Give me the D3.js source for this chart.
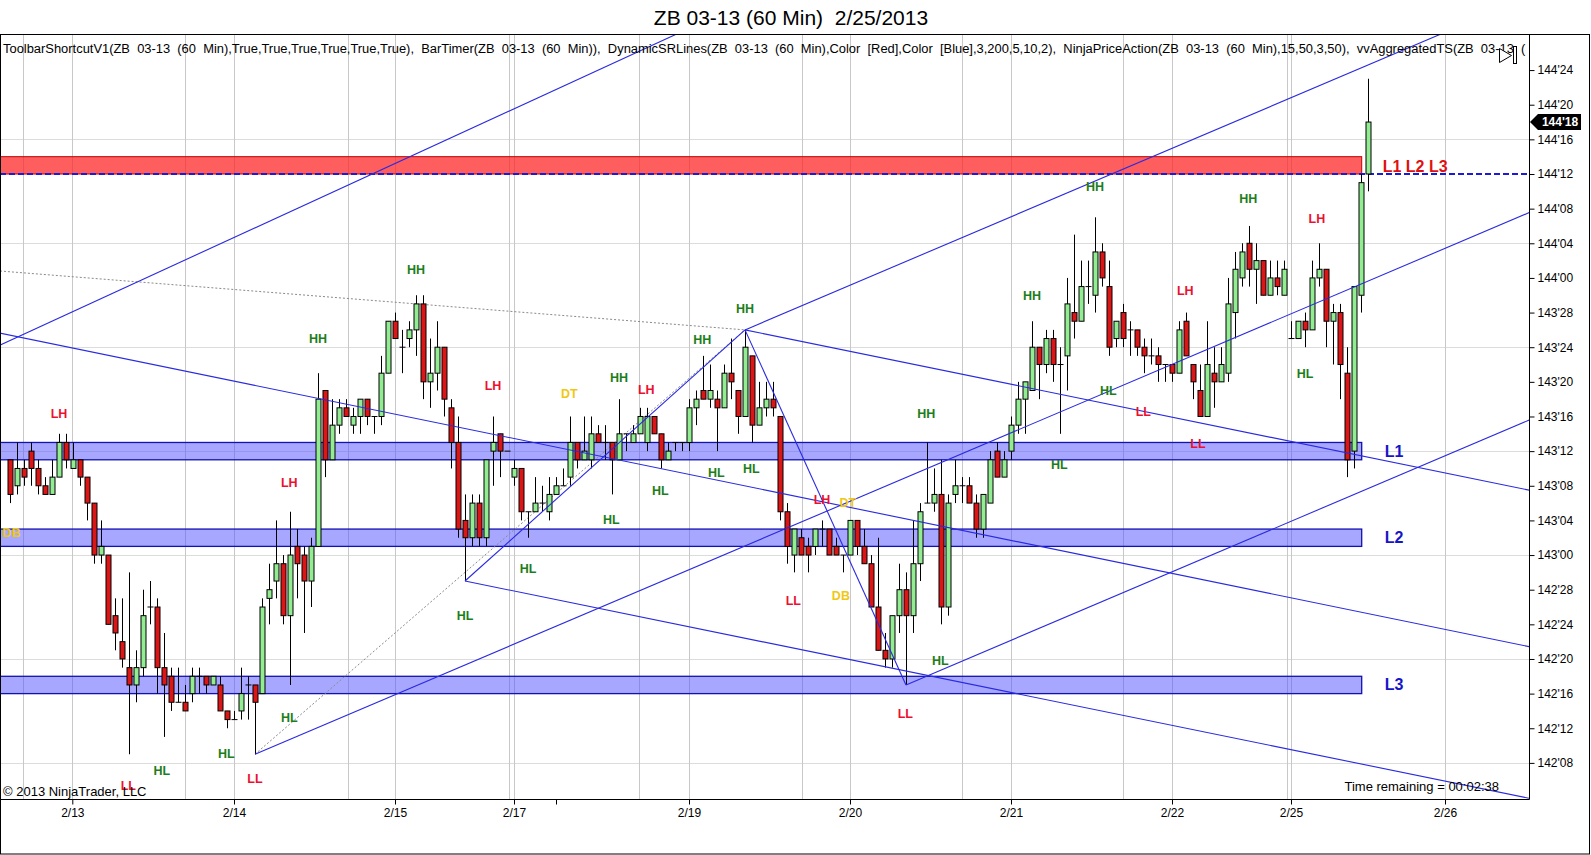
<!DOCTYPE html>
<html><head><meta charset="utf-8">
<script src="https://cdn.jsdelivr.net/npm/d3@7"></script>
<style>
html,body{margin:0;padding:0;background:#fff;overflow:hidden;}
svg{display:block;font-family:"Liberation Sans",Arial,sans-serif;}
</style></head><body>
<svg id="chart" width="1591" height="855"></svg>
<script>
// ---- DATA (prices are in 32nds of a point above 142'00) ----
const open32  = [43,40,42,44,42,40,39,41,45,42,43,41,38,32,32,25,22,19,17,19,26,26,19,18,15,15,16,18,18,17,17,14,13,14,17,17,16,27,29,31,25,33,32,29,33,51,43,47,49,47,48,50,48,48,53,59,56,57,58,61,52,53,56,49,45,36,34,38,34,44,46,44,41,42,37,37,38,37,39,40,41,45,43,43,46,45,45,43,46,45,46,45,48,46,43,45,45,45,49,51,50,50,49,53,51,48,55,47,49,50,48,37,32,34,33,33,35,35,33,32,32,36,33,31,26,21,20,25,28,25,31,38,38,39,26,39,40,40,38,35,38,44,41,44,47,50,51,56,54,57,54,55,60,59,63,62,67,63,57,60,58,58,56,55,55,54,54,53,59,54,51,48,53,52,53,60,64,68,65,66,62,64,62,57,57,59,58,64,65,59,60,53,44,62,76];
const high32  = [43,45,43,45,43,41,43,46,46,45,43,41,38,36,32,27,27,30,21,28,29,27,23,19,19,17,19,19,18,18,18,14,14,19,18,17,27,31,36,32,37,35,33,34,53,51,50,50,50,49,50,50,48,55,59,60,58,59,62,62,57,59,56,50,48,39,39,39,43,48,46,44,43,42,37,41,40,41,41,42,48,45,48,48,47,47,45,50,46,47,49,49,48,46,45,45,45,50,51,55,54,51,54,57,51,58,55,52,52,52,48,38,35,35,34,35,36,35,34,32,36,36,35,32,34,23,25,31,30,36,38,45,42,43,39,43,41,41,39,39,44,45,44,48,52,52,59,56,58,58,56,64,69,66,66,71,68,66,59,61,59,58,57,57,56,54,54,59,60,54,54,59,56,56,64,67,68,70,68,66,66,66,66,59,59,60,66,68,65,61,61,56,63,76,87];
const low32   = [38,39,40,40,39,39,39,41,42,42,40,36,31,31,24,21,19,9,15,18,24,16,11,14,15,14,15,16,16,17,14,12,13,13,13,9,16,24,27,24,17,27,23,26,33,41,43,46,48,46,46,47,46,47,53,57,53,56,55,50,49,51,48,42,34,29,33,33,33,40,41,44,40,36,34,37,37,36,39,40,40,42,43,42,45,43,39,43,44,45,46,44,46,42,43,44,44,44,47,50,49,44,49,50,46,48,45,47,48,48,36,31,30,32,30,32,33,32,32,30,32,32,31,26,21,19,19,23,17,23,29,38,37,24,25,38,38,38,34,34,38,41,41,43,46,46,51,50,53,52,46,51,57,59,61,60,63,55,56,56,55,55,53,54,52,52,52,53,55,50,48,48,49,52,52,57,63,63,61,62,62,62,62,57,57,56,58,63,56,54,50,41,42,60,74];
const close32 = [39,42,41,42,40,39,41,45,43,43,41,38,32,33,24,23,20,17,19,25,26,19,17,15,15,14,18,18,17,18,14,13,13,16,17,15,26,28,31,25,32,31,29,33,50,43,47,49,48,48,50,48,48,53,59,57,56,58,61,52,53,56,50,45,35,34,38,34,43,45,44,44,42,37,37,38,38,39,40,40,45,43,44,46,45,45,43,46,46,46,48,48,46,43,44,45,45,49,50,50,51,49,53,52,48,56,47,49,50,49,37,33,35,32,32,35,35,32,32,32,36,33,31,26,21,20,25,28,25,31,37,38,39,26,38,40,40,38,35,39,43,41,43,47,50,52,56,54,57,54,54,61,59,63,63,67,64,56,59,57,58,56,55,55,54,54,53,58,55,52,48,54,52,54,61,65,67,65,66,62,64,63,65,57,59,58,64,65,59,60,54,43,63,75,82];

const dateLabels = ["2/13","2/14","2/15","2/17","","2/19","2/20","2/21","2/22","2/25","2/26"];
const dateBars   = [8.9, 32, 55, 72, 78, 97, 120, 143, 166, 183, 205];
const sessionBars = [1.9, 25, 48.3, 71.3, 89.9, 113.1, 136, 159, 182.4];
const dayLineBars = [8.9, 32, 55, 72, 97, 120, 143, 166, 183, 205];

const priceTicks32 = [8,12,16,20,24,28,32,36,40,44,48,52,56,60,64,68,72,76,80,84,88];
const gridTicks32  = [8,20,32,44,56,68,80];

const zoneNames  = ["L1","L2","L3"];
const zoneLow32  = [43,33,16];
const zoneHigh32 = [45,35,18];
const resistLow32 = 76, resistHigh32 = 78;
const zoneEndBar = 193.1;
const lastPrice32 = 82;

const swingText = ["LH","DB","LL","HL","HL","LL","HL","LH","HH","HH","HL","LH","HL","DT","HL","HH","LH","HL","HH","HL","HH","HL","LL","LH","DB","DT","LL","HH","HL","HH","HL","HH","HL","LL","LH","LL","HH","HL","LH"];
const swingBar  = [7.0,0.2,16.9,21.7,30.9,35,39.9,39.9,44,58,65,69,74,79.9,85.9,87,90.9,92.9,98.9,100.9,105,105.9,111.9,116,118.7,119.7,127.9,130.9,132.9,146,149.9,155,156.9,161.9,167.9,169.7,176.9,185,186.7];
const swing32   = [48.3,34.5,5.3,7.1,9.0,6.1,13.2,40.3,57.0,64.9,25.0,51.5,30.4,50.6,36.1,52.4,51.1,39.4,56.8,41.5,60.4,41.9,26.7,38.4,27.3,38.0,13.6,48.3,19.8,61.9,42.4,74.5,51.0,48.5,62.5,44.8,73.1,52.9,70.8];

// trend lines: [bar, price32] pairs
const trendFrom = [[35,9],[105,58],[128,17],[-1.43,56.25],[105,58],[65,29],[80,44.13],[65,29],[105,58]];
const trendTo   = [[184.3,60.3],[184.3,85.25],[217,47.58],[91.3,90.7],[217,39.5],[217,3.92],[217,21.43],[105,58],[128,17]];
const trendMode = ["ray","ray","ray","line","ray","ray","line","seg","seg"];
const guideFrom = [[35,9],[-1.43,64.8]];
const guideTo   = [[105,58],[105,58]];

const titleText = "ZB 03-13 (60 Min)  2/25/2013";
const indicatorText = "ToolbarShortcutV1(ZB  03-13  (60  Min),True,True,True,True,True,True),  BarTimer(ZB  03-13  (60  Min)),  DynamicSRLines(ZB  03-13  (60  Min),Color  [Red],Color  [Blue],3,200,5,10,2),  NinjaPriceAction(ZB  03-13  (60  Min),15,50,3,50),  vvAggregatedTS(ZB  03-13  (";

// ---- RENDER ----
const toPrice = t => 142 + t / 32;
const fmt = p => { const t = Math.round((p - 142) * 32); return (142 + Math.floor(t / 32)) + "'" + String(t % 32).padStart(2, "0"); };

const svg = d3.select("#chart");
const P = {left: 0, top: 35, right: 1529, bottom: 799};
const x = d3.scaleLinear().domain([0, 194]).range([10, 1368]);
const y = d3.scaleLinear().domain([toPrice(8), toPrice(76)]).range([762.9, 174]);

svg.append("rect").attr("width", 1591).attr("height", 855).attr("fill", "#fff");

svg.append("text").attr("x", 791).attr("y", 17).attr("text-anchor", "middle")
  .attr("dominant-baseline", "central").attr("font-size", 21).attr("fill", "#000")
  .style("white-space", "pre").text(titleText);

svg.append("defs").append("clipPath").attr("id", "clip").append("rect")
  .attr("x", P.left).attr("y", P.top).attr("width", P.right - P.left).attr("height", P.bottom - P.top);

const g = svg.append("g").attr("clip-path", "url(#clip)");

// grid
g.selectAll(".hg").data(gridTicks32).join("line")
  .attr("x1", P.left).attr("x2", P.right)
  .attr("y1", d => Math.round(y(toPrice(d))) + 0.5).attr("y2", d => Math.round(y(toPrice(d))) + 0.5)
  .attr("stroke", "#dcdcdc").attr("stroke-width", 1);
g.selectAll(".vg").data(sessionBars.concat(dayLineBars)).join("line")
  .attr("x1", d => Math.round(x(d)) + 0.5).attr("x2", d => Math.round(x(d)) + 0.5)
  .attr("y1", P.top).attr("y2", P.bottom)
  .attr("stroke", "#c8c8c8").attr("stroke-width", 1);

// zones
g.selectAll(".zone").data(zoneNames).join("rect")
  .attr("x", x(-10)).attr("width", x(zoneEndBar) - x(-10))
  .attr("y", (d, i) => y(toPrice(zoneHigh32[i])))
  .attr("height", (d, i) => y(toPrice(zoneLow32[i])) - y(toPrice(zoneHigh32[i])))
  .attr("fill", "rgba(80,80,255,0.5)").attr("stroke", "#1212b0").attr("stroke-width", 1.3);
g.append("rect")
  .attr("x", x(-10)).attr("width", x(zoneEndBar) - x(-10))
  .attr("y", y(toPrice(resistHigh32)))
  .attr("height", y(toPrice(resistLow32)) - y(toPrice(resistHigh32)))
  .attr("fill", "rgba(255,40,40,0.75)").attr("stroke", "#c00000").attr("stroke-width", 1);
g.append("line").attr("x1", P.left).attr("x2", P.right)
  .attr("y1", y(toPrice(resistLow32))).attr("y2", y(toPrice(resistLow32)))
  .attr("stroke", "#1a1ad8").attr("stroke-width", 2).attr("stroke-dasharray", "6,3");

// guide dotted lines
g.selectAll(".guide").data(guideFrom).join("line")
  .attr("x1", d => x(d[0])).attr("y1", d => y(toPrice(d[1])))
  .attr("x2", (d, i) => x(guideTo[i][0])).attr("y2", (d, i) => y(toPrice(guideTo[i][1])))
  .attr("stroke", "#8a8a8a").attr("stroke-width", 1).attr("stroke-dasharray", "2,2");

// candles
const bars = open32.map((o, i) => ({i, o: toPrice(o), h: toPrice(high32[i]), l: toPrice(low32[i]), c: toPrice(close32[i])}));
const cx = d => Math.round(x(d.i)) + 0.5;
g.selectAll(".wick").data(bars).join("line")
  .attr("x1", cx).attr("x2", cx).attr("y1", d => y(d.h)).attr("y2", d => y(d.l))
  .attr("stroke", "#000").attr("stroke-width", 1);
g.selectAll(".body").data(bars.filter(d => d.o !== d.c)).join("rect")
  .attr("x", d => cx(d) - 2.5).attr("width", 5)
  .attr("y", d => y(Math.max(d.o, d.c))).attr("height", d => Math.abs(y(d.o) - y(d.c)))
  .attr("fill", d => d.c > d.o ? "#92ec92" : "#dc1616").attr("stroke", "#000").attr("stroke-width", 1);
g.selectAll(".doji").data(bars.filter(d => d.o === d.c)).join("line")
  .attr("x1", d => cx(d) - 3).attr("x2", d => cx(d) + 3)
  .attr("y1", d => y(d.o)).attr("y2", d => y(d.o))
  .attr("stroke", "#000").attr("stroke-width", 1);

// trend lines
function extend(a, b, mode) {
  const dx = b[0] - a[0], dy = b[1] - a[1];
  if (mode === "seg") return [a, b];
  const t1 = (240 - a[0]) / dx;
  const end = [240, a[1] + dy * t1];
  if (mode === "ray") return [a, end];
  const t0 = (-20 - a[0]) / dx;
  return [[-20, a[1] + dy * t0], end];
}
const trendSegs = trendFrom.map((a, i) => extend(a, trendTo[i], trendMode[i]));
g.selectAll(".trend").data(trendSegs).join("line")
  .attr("x1", d => x(d[0][0])).attr("y1", d => y(toPrice(d[0][1])))
  .attr("x2", d => x(d[1][0])).attr("y2", d => y(toPrice(d[1][1])))
  .attr("stroke", "#2a2ae0").attr("stroke-width", 1.1);

// swing labels
const swingColor = t => (t === "HH" || t === "HL") ? "#1d7d1d" : (t === "LH" || t === "LL") ? "#ec1030" : "#f0c814";
g.selectAll(".swing").data(swingText).join("text")
  .attr("x", (d, i) => x(swingBar[i])).attr("y", (d, i) => y(toPrice(swing32[i])))
  .attr("text-anchor", "middle").attr("dominant-baseline", "central")
  .attr("font-size", 12.5).attr("font-weight", "bold").attr("fill", swingColor).text(d => d);

// zone labels
svg.selectAll(".zlab").data(zoneNames).join("text")
  .attr("x", x(zoneEndBar) + 23).attr("y", (d, i) => y(toPrice((zoneLow32[i] + zoneHigh32[i]) / 2)))
  .attr("dominant-baseline", "central").attr("font-size", 16).attr("font-weight", "bold")
  .attr("fill", "#1515c8").text(d => d);
svg.append("text").attr("x", x(zoneEndBar) + 21).attr("y", y(toPrice((resistLow32 + resistHigh32) / 2)) + 1)
  .attr("dominant-baseline", "central").attr("font-size", 16).attr("font-weight", "bold")
  .attr("fill", "#e01010").style("white-space", "pre").text(zoneNames.join(" "));

// indicator text (fitted to the panel width)
const ind = svg.append("text").attr("x", 3).attr("y", 48).attr("dominant-baseline", "central")
  .attr("font-size", 12).attr("fill", "#000").style("white-space", "pre").text(indicatorText);
const natural = ind.node().getComputedTextLength();
ind.attr("font-size", 12 * 1524 / natural);

// toolbar icon
svg.append("path").attr("d", "M1499.5,48.5 L1499.5,62.5 L1511.5,55.5 Z").attr("fill", "#fff").attr("stroke", "#000");
svg.append("rect").attr("x", 1513.5).attr("y", 46.5).attr("width", 3).attr("height", 17).attr("fill", "#fff").attr("stroke", "#000");

// bottom texts
svg.append("text").attr("x", 3).attr("y", 791).attr("dominant-baseline", "central")
  .attr("font-size", 13).attr("fill", "#000").text("© 2013 NinjaTrader, LLC");
svg.append("text").attr("x", 1499).attr("y", 786).attr("text-anchor", "end").attr("dominant-baseline", "central")
  .attr("font-size", 13).attr("fill", "#000").text("Time remaining = 00:02:38");

// axes
const yAxis = d3.axisRight(y).tickValues(priceTicks32.map(toPrice)).tickFormat(fmt).tickSize(5).tickPadding(3);
const ya = svg.append("g").attr("transform", `translate(${P.right + 0.5},0)`).call(yAxis);
ya.select(".domain").remove();
ya.selectAll("text").attr("font-size", 12).attr("font-family", "Liberation Sans, Arial, sans-serif").attr("fill", "#000");
ya.selectAll("line").attr("stroke", "#000");

const xAxis = d3.axisBottom(x).tickValues(dateBars).tickFormat((d, i) => dateLabels[i]).tickSize(5).tickPadding(4);
const xa = svg.append("g").attr("transform", `translate(0,${P.bottom + 0.5})`).call(xAxis);
xa.select(".domain").remove();
xa.selectAll("text").attr("font-size", 12).attr("font-family", "Liberation Sans, Arial, sans-serif").attr("fill", "#000");
xa.selectAll("line").attr("stroke", "#000");

// frame lines
svg.append("line").attr("x1", 0).attr("x2", P.right + 0.5).attr("y1", P.bottom + 0.5).attr("y2", P.bottom + 0.5).attr("stroke", "#000");
svg.append("line").attr("x1", P.right + 0.5).attr("x2", P.right + 0.5).attr("y1", P.top).attr("y2", P.bottom + 0.5).attr("stroke", "#000");
svg.append("rect").attr("x", 0.5).attr("y", 34.5).attr("width", 1589).attr("height", 819.5).attr("fill", "none").attr("stroke", "#000");

// last price tag
const ly = y(toPrice(lastPrice32));
svg.append("path").attr("d", `M${P.right + 1},${ly} L${P.right + 9},${ly - 8} L${P.right + 52},${ly - 8} L${P.right + 52},${ly + 8} L${P.right + 9},${ly + 8} Z`).attr("fill", "#000");
svg.append("text").attr("x", P.right + 31).attr("y", ly).attr("text-anchor", "middle").attr("dominant-baseline", "central")
  .attr("font-size", 12).attr("font-weight", "bold").attr("fill", "#fff").text(fmt(toPrice(lastPrice32)));
</script>
</body></html>
